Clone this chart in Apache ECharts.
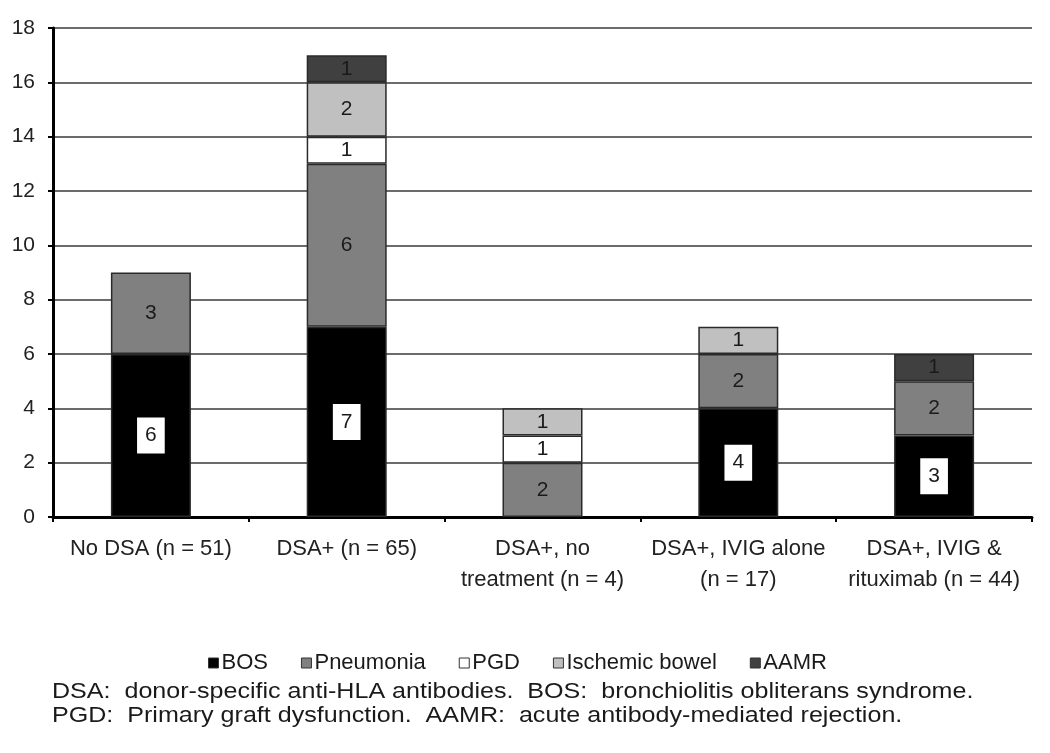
<!DOCTYPE html>
<html>
<head>
<meta charset="utf-8">
<script src="https://cdn.jsdelivr.net/npm/echarts@6/dist/echarts.min.js"></script>
<style>
  html, body { margin: 0; padding: 0; background: #fff; }
  #main { width: 1050px; height: 753px; }
</style>
</head>
<body>
<div id="main"></div>
<script>
var categories = ['No DSA (n = 51)', 'DSA+ (n = 65)', 'DSA+, no\ntreatment (n = 4)', 'DSA+, IVIG alone\n(n = 17)', 'DSA+, IVIG &\nrituximab (n = 44)']
var bos = [6, 7, 0, 4, 3]
var pneumonia = [3, 6, 2, 2, 2]
var pgd = [0, 1, 1, 0, 0]
var ischemic = [0, 2, 1, 1, 0]
var aamr = [0, 1, 0, 0, 1]
var yTicks = [0, 2, 4, 6, 8, 10, 12, 14, 16, 18]

var font = 'Liberation Sans, Arial, sans-serif'
var myChart = echarts.init(document.getElementById('main'))

// zero counts are left out so no empty label box is drawn
function makeSeries (name, data, color, boxed) {
  return {
    name: name,
    type: 'bar',
    stack: 'total',
    data: data.map(function (v) { return v === 0 ? null : v }),
    barWidth: 80,
    itemStyle: { color: color, borderColor: '#2a2a2a', borderWidth: 1.5 },
    label: {
      show: true,
      position: 'inside',
      color: '#1a1a1a',
      fontFamily: font,
      fontSize: 21,
      backgroundColor: boxed ? '#fff' : 'transparent',
      padding: boxed ? [8, 8, 7, 8] : 0
    }
  }
}

var option = {
  animation: false,
  backgroundColor: '#fff',
  grid: { left: 53, right: 18, top: 28, bottom: 236 },
  legend: {
    left: 203,
    top: 647,
    itemWidth: 10,
    itemHeight: 10,
    itemGap: 33,
    icon: 'rect',
    textStyle: { fontFamily: font, fontSize: 22, color: '#1a1a1a', padding: [0, 0, 0, -2] },
    itemStyle: { borderColor: '#333', borderWidth: 1 },
    data: ['BOS', 'Pneumonia', 'PGD', 'Ischemic bowel', 'AAMR']
  },
  xAxis: {
    type: 'category',
    data: categories,
    axisLine: { lineStyle: { color: '#000', width: 3 } },
    axisTick: { show: true, length: 5, lineStyle: { color: '#000', width: 2 } },
    axisLabel: { fontFamily: font, fontSize: 22, color: '#222', margin: 16, lineHeight: 31, interval: 0 }
  },
  yAxis: {
    type: 'value',
    min: yTicks[0],
    max: yTicks[yTicks.length - 1],
    interval: 2,
    axisLine: { show: true, lineStyle: { color: '#000', width: 3 } },
    axisTick: { show: true, length: 5, lineStyle: { color: '#000', width: 2 } },
    axisLabel: { fontFamily: font, fontSize: 21, color: '#222', margin: 18 },
    splitLine: { lineStyle: { color: '#3a3a3a', width: 1.6 } }
  },
  series: [
    makeSeries('BOS', bos, '#000000', true),
    makeSeries('Pneumonia', pneumonia, '#808080', false),
    makeSeries('PGD', pgd, '#ffffff', false),
    makeSeries('Ischemic bowel', ischemic, '#c0c0c0', false),
    makeSeries('AAMR', aamr, '#404040', false)
  ],
  graphic: [
    {
      type: 'text',
      x: 52,
      y: 680,
      scaleX: 1.14,
      style: {
        text: 'DSA:  donor-specific anti-HLA antibodies.  BOS:  bronchiolitis obliterans syndrome.\nPGD:  Primary graft dysfunction.  AAMR:  acute antibody-mediated rejection.',
        font: '22px ' + font,
        fill: '#1a1a1a',
        lineHeight: 24
      }
    }
  ]
}

myChart.setOption(option)
</script>
</body>
</html>
